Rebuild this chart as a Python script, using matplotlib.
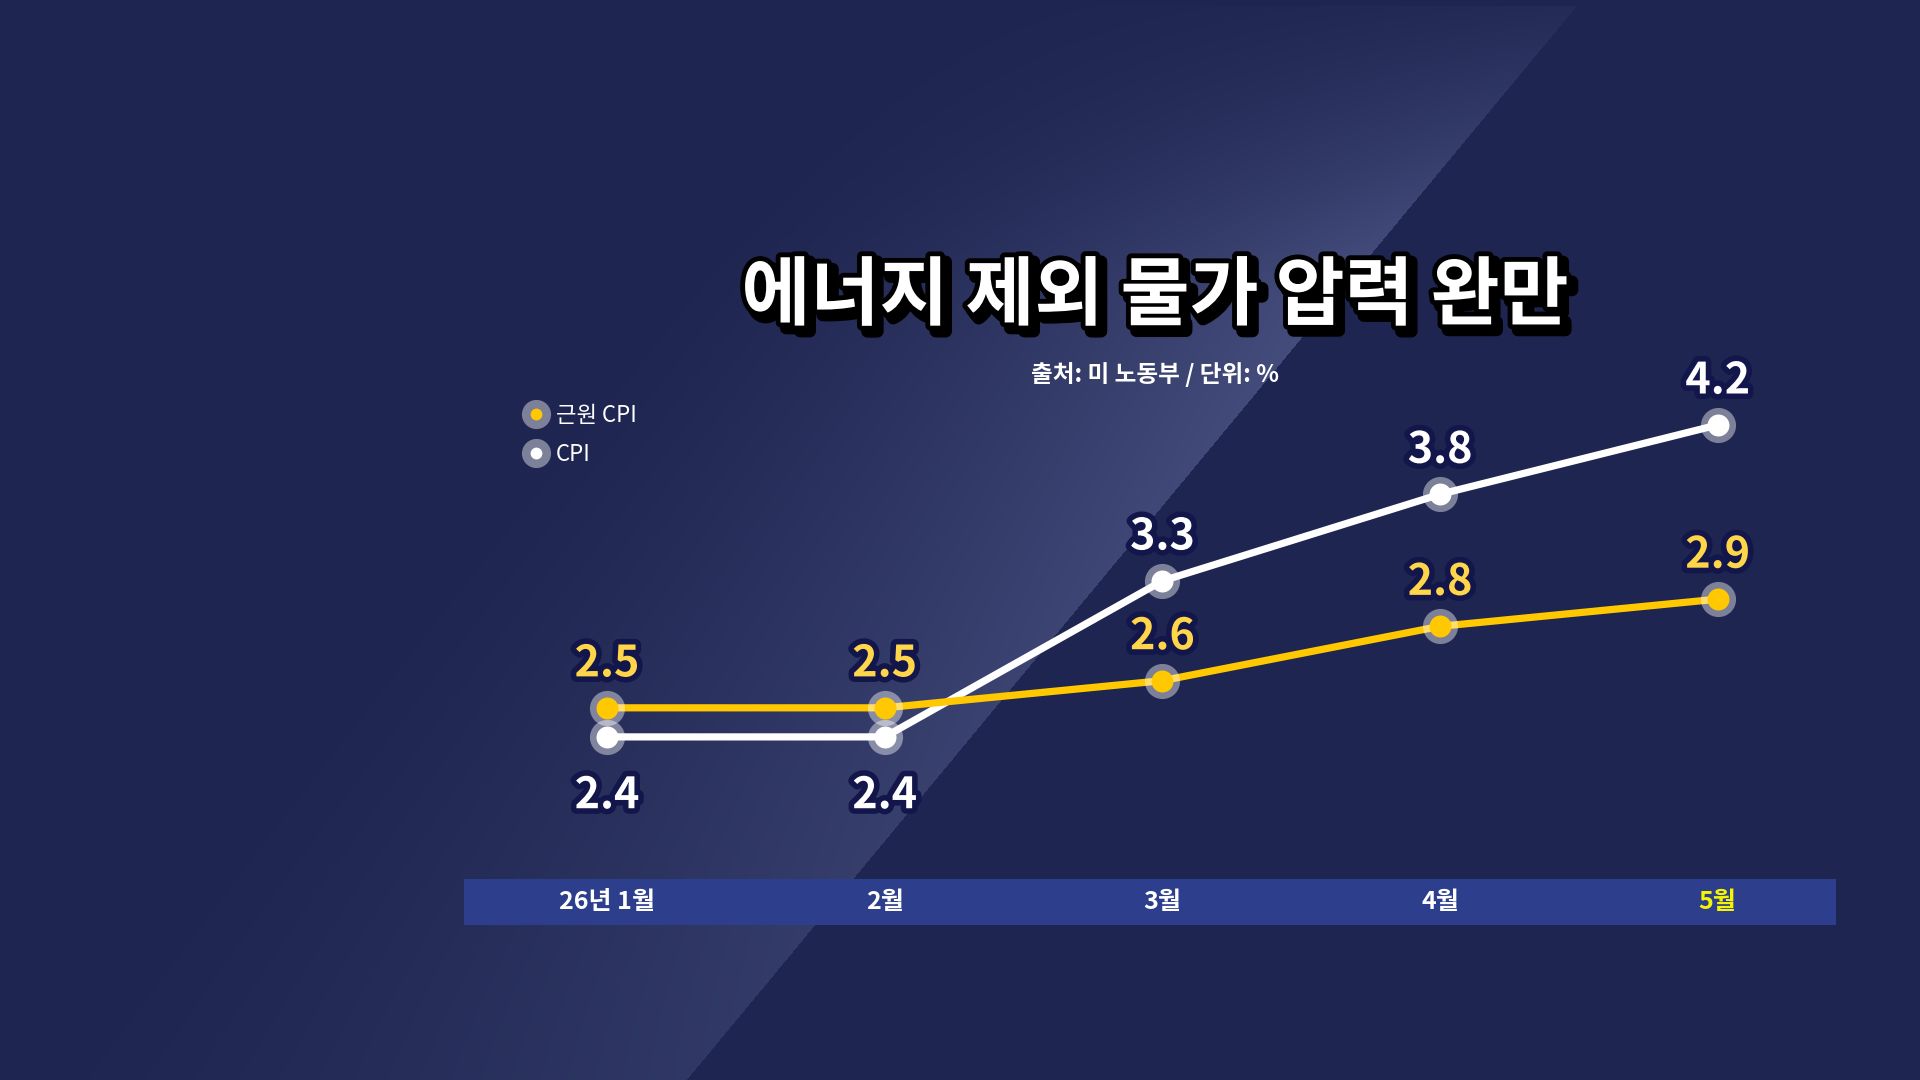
import numpy as np
import matplotlib
matplotlib.use("Agg")
import matplotlib.pyplot as plt
import matplotlib.patheffects as pe
from matplotlib.lines import Line2D
from matplotlib.legend_handler import HandlerTuple

plt.rcParams['font.family'] = ['Noto Sans CJK KR', 'DejaVu Sans']

# data
months = ['26년 1월', '2월', '3월', '4월', '5월']
core_cpi = [2.5, 2.5, 2.6, 2.8, 2.9]
cpi = [2.4, 2.4, 3.3, 3.8, 4.2]
title = '에너지 제외 물가 압력 완만'
source = '출처: 미 노동부 / 단위: %'

# colors
BASE = np.array([0x1e, 0x25, 0x50]) / 255
LIGHT = np.array([0x48, 0x50, 0x80]) / 255
BAND = '#2d3f8c'
YELLOW = '#ffc800'
YELLOW_TXT = '#ffd54a'
OUTLINE = '#12164a'

W, H = 1920, 1080
fig = plt.figure(figsize=(W / 100, H / 100), dpi=100)

# background with the light diagonal stripe
ys = np.arange(H)[:, None].astype(float)
xs = np.arange(W)[None, :].astype(float)
edge = 1581 - (1581 - 686) / H * ys
d = edge - xs
g = np.clip(1 - d / 700, 0, 1) ** 1.5 * (d > 0) * (ys > 5)
v = np.clip(0.12 + ys / 330, 0, 1) * np.clip(1.15 - ys / 1500, 0, 1)
k = (g * v)[..., None]
img = BASE + (LIGHT - BASE) * k
bg = fig.add_axes([0, 0, 1, 1])
bg.imshow(img, aspect='auto', interpolation='bilinear')
bg.set_axis_off()

# axes geometry (pixels from top)
left, right, top, bottom = 464, 1836, 300, 879
band_bottom = 925
ax = fig.add_axes([left / W, 1 - bottom / H, (right - left) / W, (bottom - top) / H])
ax.set_facecolor('none')
ax2 = ax.twinx()
ax.set_xlim(-0.515, 4.426)
ax.set_ylim(1.580, 4.921)
ax2.set_ylim(1.870, 4.001)
for a in (ax, ax2):
    a.set_axis_off()

x = np.arange(len(months))
halo_kw = dict(s=640, color='white', alpha=0.42, linewidths=0, zorder=3)
dot_kw = dict(s=250, linewidths=0, zorder=4)

ax.plot(x, cpi, color='white', lw=5.2, solid_capstyle='round', zorder=2)
ax.scatter(x, cpi, **halo_kw)
ax.scatter(x, cpi, color='white', **dot_kw)

ax2.plot(x, core_cpi, color=YELLOW, lw=5.2, solid_capstyle='round', zorder=2)
ax2.scatter(x, core_cpi, **halo_kw)
ax2.scatter(x, core_cpi, color=YELLOW, **dot_kw)

lbl_fx = [pe.withStroke(linewidth=8, foreground=OUTLINE)]
for i in x:
    below = cpi[i] < core_cpi[i]
    ax.annotate(f'{cpi[i]:.1f}', (i, cpi[i]), xytext=(0, -42 if below else 32),
                textcoords='offset points', ha='center', va='center',
                fontsize=31, fontweight='bold', color='white',
                path_effects=lbl_fx, zorder=6)
    ax2.annotate(f'{core_cpi[i]:.1f}', (i, core_cpi[i]), xytext=(0, 32),
                 textcoords='offset points', ha='center', va='center',
                 fontsize=31, fontweight='bold', color=YELLOW_TXT,
                 path_effects=lbl_fx, zorder=6)

# month band
band = fig.add_axes([left / W, 1 - band_bottom / H, (right - left) / W, (band_bottom - bottom) / H])
band.set_facecolor(BAND)
band.set_xlim(ax.get_xlim())
band.set_ylim(0, 1)
band.set_xticks([])
band.set_yticks([])
for s in band.spines.values():
    s.set_visible(False)
for i, m in enumerate(months):
    band.text(i, 0.5, m, ha='center', va='center', fontsize=18, fontweight='bold',
              color='#f5f500' if i == len(months) - 1 else 'white')

# title and source
fig.text(1155 / W, 1 - 297 / H, title, ha='center', va='center', fontsize=54,
         fontweight='black', color='white',
         path_effects=[pe.Stroke(linewidth=9, foreground='black', offset=(4, -4)),
                       pe.Stroke(linewidth=7, foreground='black'),
                       pe.Normal()])
fig.text(1155 / W, 1 - 375 / H, source, ha='center', va='center', fontsize=17,
         fontweight='bold', color='white')

# legend
def handle(c):
    halo = Line2D([], [], marker='o', ls='', ms=21, mfc='white', mec='none', alpha=0.42)
    dot = Line2D([], [], marker='o', ls='', ms=8.5, mfc=c, mec='none')
    return (halo, dot)

fig.legend([handle(YELLOW), handle('white')], ['근원 CPI', 'CPI'],
           handler_map={tuple: HandlerTuple(ndivide=1)},
           loc='upper left', bbox_to_anchor=(514 / W, 1 - 393 / H),
           frameon=False, borderpad=0, handlelength=1.0, handletextpad=0.4,
           labelspacing=0.7, labelcolor='white',
           prop={'family': ['Noto Sans CJK KR', 'DejaVu Sans'], 'size': 16, 'weight': 'medium'})

fig.savefig('out.png', dpi=100)
